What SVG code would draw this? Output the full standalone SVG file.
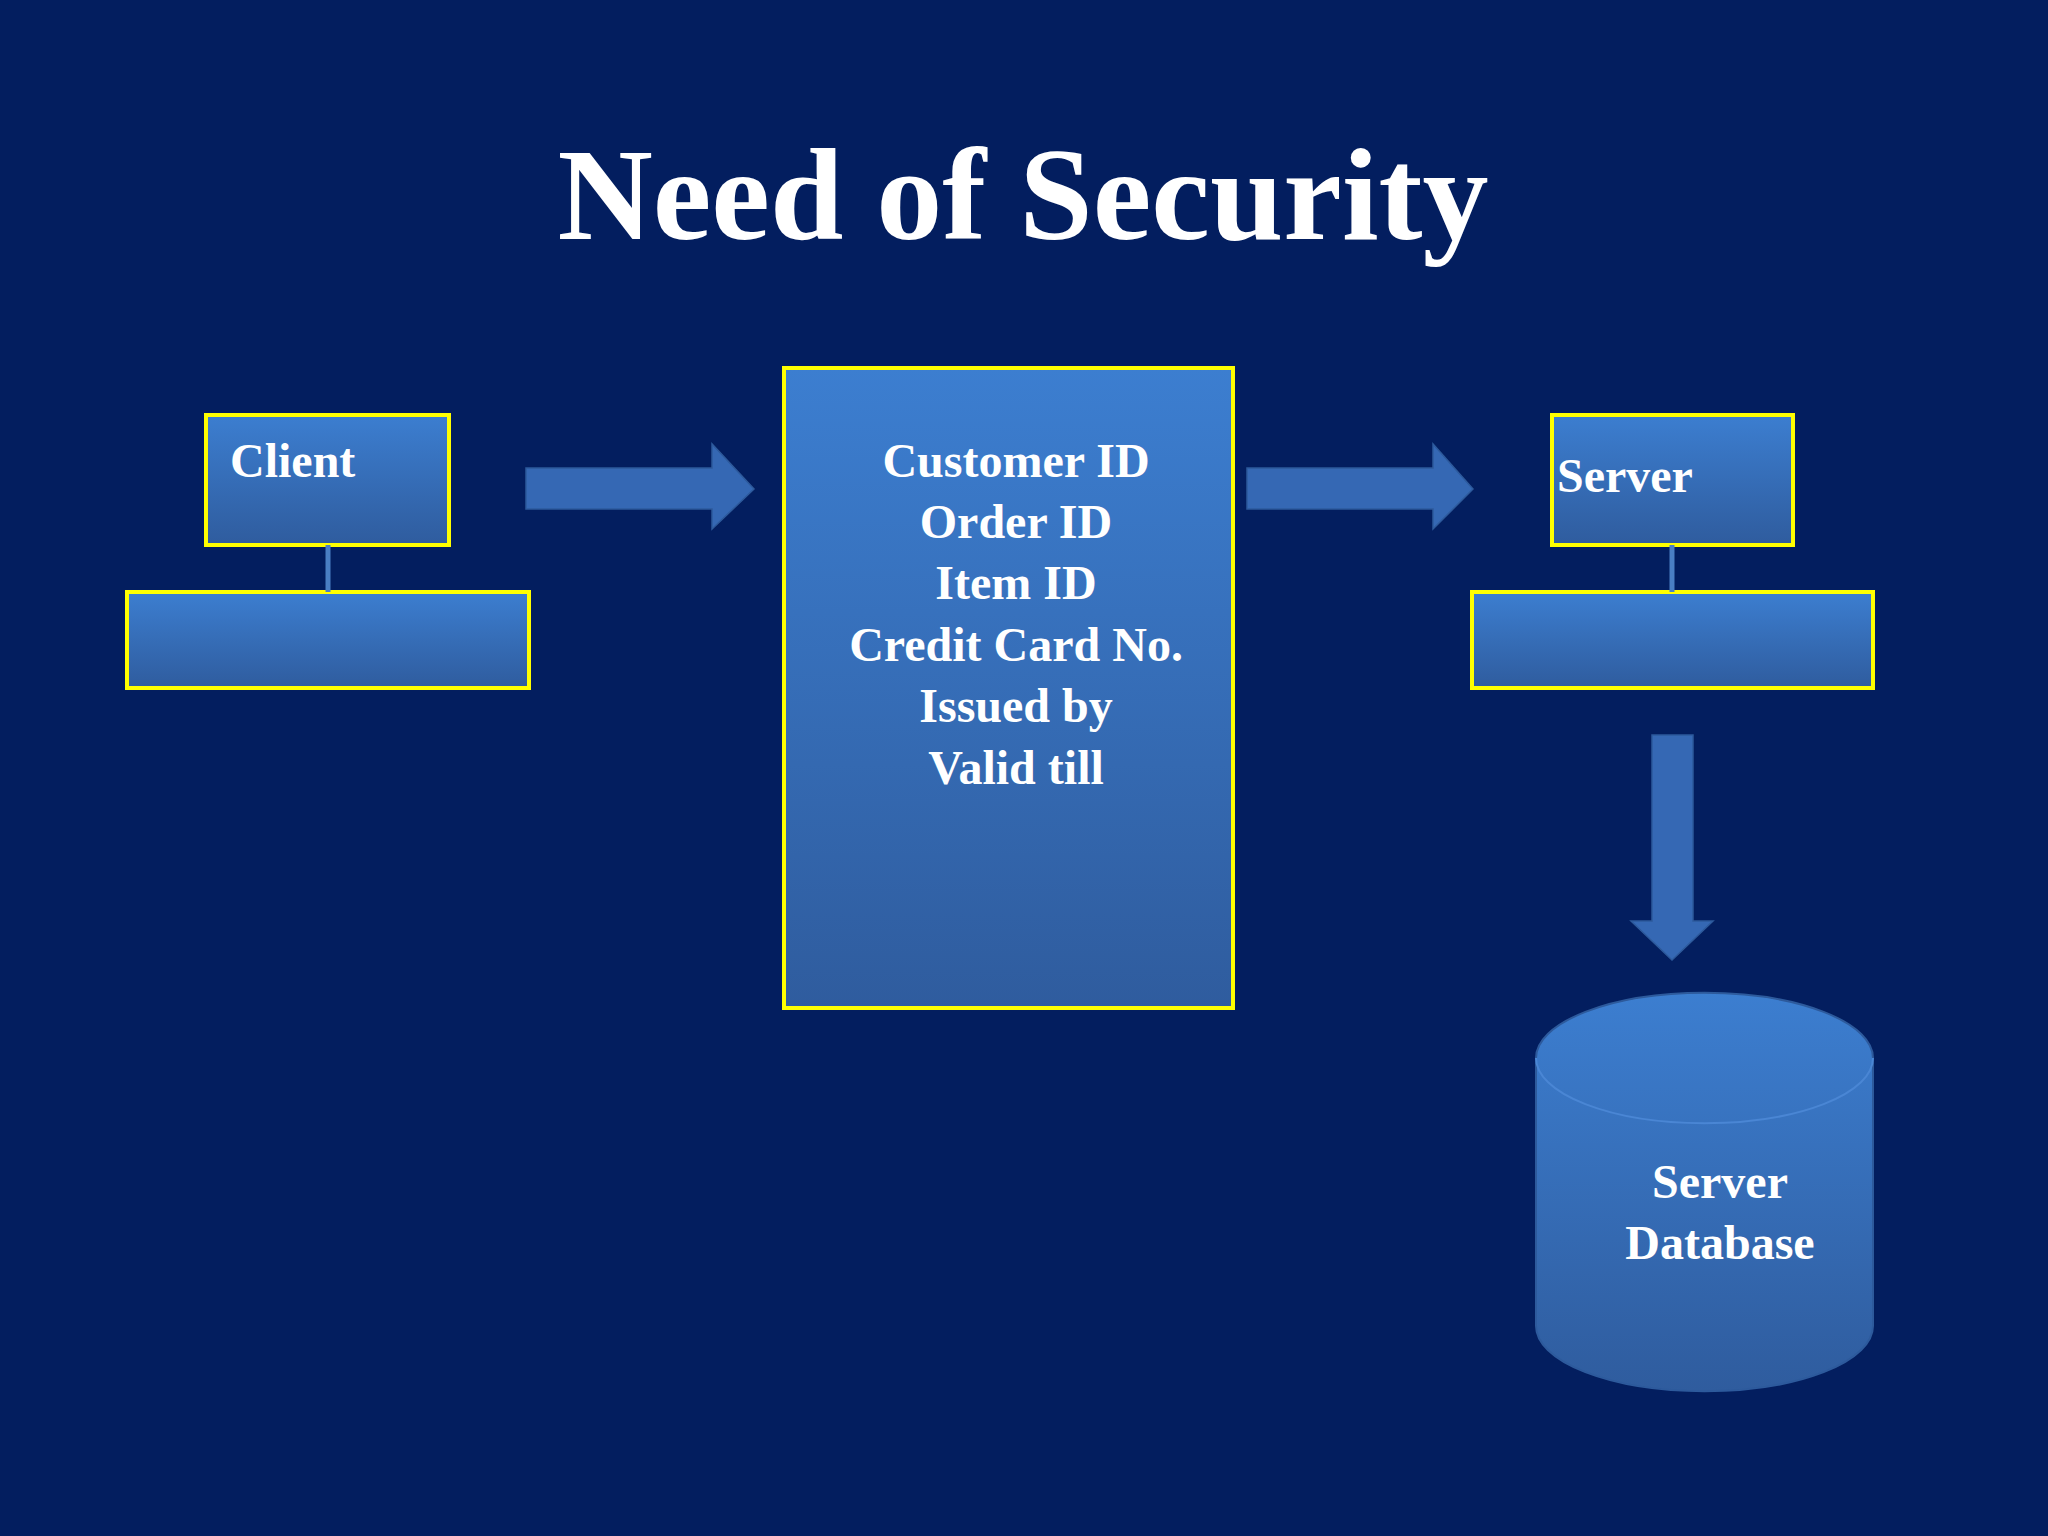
<svg xmlns="http://www.w3.org/2000/svg" width="2048" height="1536" viewBox="0 0 2048 1536">
<defs>
<linearGradient id="g" x1="0" y1="0" x2="0" y2="1"><stop offset="0" stop-color="#3C7ED0"/><stop offset="1" stop-color="#2F5C9E"/></linearGradient>
<style>
.box{fill:url(#g);stroke:#FFFF00;stroke-width:4}
.arr{fill:#3568B4;stroke:#2D5A9C;stroke-width:1.5}
.t{font-family:"Liberation Serif",serif;font-weight:bold;fill:#fff;font-size:48px}
.c{text-anchor:middle}
</style>
</defs>
<rect width="2048" height="1536" fill="#031E5F"/>
<text x="1023" y="239" class="t c" style="font-size:132px">Need of Security</text>
<g id="client"><rect x="206" y="415" width="243" height="130" class="box"/><text x="230" y="477" class="t">Client</text></g>
<g id="clientBar"><rect x="127" y="592" width="402" height="96" class="box"/></g>
<g id="message"><rect x="784" y="368" width="449" height="640" class="box"/>
<text class="t c" x="1016" y="477">Customer ID</text><text class="t c" x="1016" y="538">Order ID</text><text class="t c" x="1016" y="599">Item ID</text><text class="t c" x="1016" y="661">Credit Card No.</text><text class="t c" x="1016" y="722">Issued by</text><text class="t c" x="1016" y="784">Valid till</text></g>
<g id="server"><rect x="1552" y="415" width="241" height="130" class="box"/><text x="1557" y="492" class="t">Server</text></g>
<g id="serverBar"><rect x="1472" y="592" width="401" height="96" class="box"/></g>
<g id="db"><path d="M1536 1058 A168 65 0 0 1 1873 1058 V1326 A168 65 0 0 1 1536 1326 Z" fill="url(#g)" stroke="#2D5A9C" stroke-width="2"/>
<path d="M1536 1058 A168 65 0 0 0 1873 1058" fill="none" stroke="#4A86D4" stroke-width="2"/>
<text class="t c" x="1720" y="1198">Server</text><text class="t c" x="1720" y="1259">Database</text></g>
<g id="connectors">
<line x1="328" y1="545" x2="328" y2="592" stroke="#4A7FC4" stroke-width="5"/>
<line x1="1672" y1="545" x2="1672" y2="592" stroke="#4A7FC4" stroke-width="5"/>
<path class="arr" d="M526 468 H712 V444 L754 489 L712 529 V509 H526 Z"/>
<path class="arr" d="M1247 468 H1433 V444 L1473 489 L1433 529 V509 H1247 Z"/>
<path class="arr" d="M1652 735 H1693 V921 H1713 L1672 960 L1631 921 H1652 Z"/>
</g>
</svg>
